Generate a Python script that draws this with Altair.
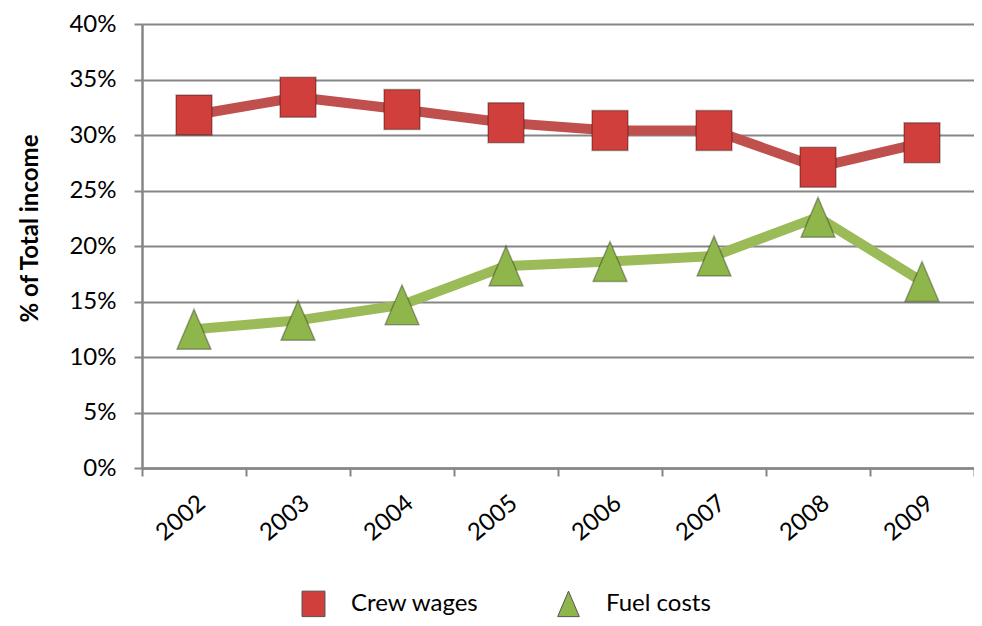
import altair as alt
import pandas as pd

years = ["2002", "2003", "2004", "2005", "2006", "2007", "2008", "2009"]
crew_wages = [0.318, 0.334, 0.323, 0.311, 0.304, 0.304, 0.271, 0.293]
fuel_costs = [0.125, 0.133, 0.147, 0.182, 0.186, 0.191, 0.226, 0.168]
series_names = ["Crew wages", "Fuel costs"]
y_ticks = [0, 0.05, 0.10, 0.15, 0.20, 0.25, 0.30, 0.35, 0.40]

rows = []
for name, vals in zip(series_names, [crew_wages, fuel_costs]):
    for yr, v in zip(years, vals):
        rows.append({"year": yr, "value": v, "series": name})
df = pd.DataFrame(rows)

FONT = "Lato"
GRAY = "#868686"
line_colors = ["#C0504D", "#9BBB59"]
fill_colors = ["#D03F3C", "#8FB64B"]
square_path = "M-0.9,-1L0.9,-1L0.9,1L-0.9,1Z"
tri_path = "M-0.85,1L0.85,1L0,-1Z"

x_enc = alt.X(
    "year:O",
    bandPosition=0.5,
    sort=years,
    scale=alt.Scale(type="band", paddingInner=0, paddingOuter=0),
    axis=alt.Axis(
        title=None, labelAngle=-40, labelFontSize=24, labelFont=FONT,
        labelColor="#000000", labelAlign="right", labelBaseline="middle",
        labelPadding=24, labelOffset=8, tickBand="extent",
        domainColor=GRAY, domainWidth=2.5, tickColor=GRAY, tickWidth=2,
        tickSize=8, grid=False,
    ),
)
y_enc = alt.Y(
    "value:Q",
    scale=alt.Scale(domain=[0, 0.4], nice=False),
    axis=alt.Axis(
        values=y_ticks, format=".0%", title="% of Total income",
        titleFont=FONT, titleFontSize=24, titleFontWeight="bold",
        titleColor="#000000", titlePadding=26, titleY=204,
        labelFont=FONT, labelFontSize=24, labelColor="#000000",
        labelPadding=18, gridColor=GRAY, gridWidth=2,
        domainColor=GRAY, domainWidth=2.5, tickColor=GRAY, tickWidth=2,
        tickSize=8,
    ),
)

base = alt.Chart(df)

line_layers = [
    base.transform_filter(alt.datum.series == name)
    .mark_line(strokeWidth=10, strokeJoin="round", color=col)
    .encode(x=x_enc, y=y_enc)
    for name, col in zip(series_names, line_colors)
]

points = base.mark_point(filled=True, opacity=1, strokeWidth=1.5, size=1600,
                         stroke="#000000", strokeOpacity=0.3).encode(
    x=x_enc, y=y_enc,
    shape=alt.Shape("series:N", scale=alt.Scale(domain=series_names, range=[square_path, tri_path])),
    color=alt.Color("series:N", scale=alt.Scale(domain=series_names, range=fill_colors)),
)

chart = alt.layer(*line_layers, points).properties(
    width=832, height=444,
    autosize=alt.AutoSizeParams(type="none"),
    padding={"left": 134, "top": 16, "right": 0, "bottom": 158},
    background="white",
).configure_view(stroke=None).configure_legend(
    title=None, orient="none", legendX=158, legendY=566, direction="horizontal",
    labelFont=FONT, labelFontSize=24, labelColor="#000000", symbolSize=650,
    labelOffset=24, columnPadding=76, symbolStrokeColor="#555555", symbolStrokeWidth=1,
)

chart.save("out.html", embed_options={"renderer": "svg", "actions": False})
